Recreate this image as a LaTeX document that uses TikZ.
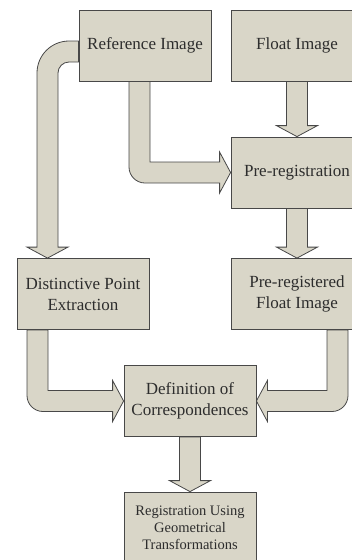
\documentclass[tikz,border=0pt]{standalone}
\usepackage{fontspec}
\setmainfont{Liberation Serif}
\usetikzlibrary{calc}
\definecolor{boxfill}{RGB}{217,214,200}
\definecolor{edgecol}{RGB}{72,72,72}
\definecolor{txtcol}{RGB}{45,45,45}
\pgfdeclarelayer{background}
\pgfsetlayers{background,main}
\newcommand{\vblockarrow}[2]{%
  \draw[blockarrow] let \p1=(#1.south), \p2=(#2.north),
    \n2={\y1}, \n3={\x2}, \n4={\y2} in
    (\n3-10.5,\n2) -- (\n3-10.5,\n4+11) -- (\n3-20.5,\n4+11) -- (\n3,\n4)
    -- (\n3+20.5,\n4+11) -- (\n3+10.5,\n4+11) -- (\n3+10.5,\n2) -- cycle;}
\begin{document}
\begin{tikzpicture}[x=1pt,y=1pt,
  stepbox/.style={draw=edgecol,line width=0.8pt,fill=boxfill,
    minimum width=132pt,minimum height=71pt,inner sep=0pt,align=center,
    text=txtcol,font=\fontsize{17}{21}\selectfont},
  smallbox/.style={stepbox,font=\fontsize{14.5}{17}\selectfont},
  blockarrow/.style={draw=edgecol,line width=0.8pt,fill=boxfill,line join=miter}]
\useasboundingbox (0,0) rectangle (352,-560);
\clip (0,0) rectangle (352,-560);
\node[stepbox] (ref) at (145,-45.5) {Reference Image};
\node[stepbox] (flt) at (297,-45.5) {Float Image};
\node[stepbox] (pre) at (297,-172.5) {Pre-registration};
\node[stepbox] (dpe) at (83,-294) {Distinctive Point\\Extraction};
\node[stepbox] (prf) at (297,-294) {Pre-registered\\Float Image};
\node[stepbox] (def) at (190,-401) {Definition of\\Correspondences};
\node[smallbox] (reg) at (190,-527.5) {Registration Using\\Geometrical\\Transformations};
\begin{pgfonlayer}{background}
\vblockarrow{flt}{pre}
\vblockarrow{pre}{prf}
\vblockarrow{def}{reg}
% Reference -> Distinctive Point Extraction
\draw[blockarrow] let \p1=(ref.west), \p2=(dpe.north),
    \n1={\x2-35.5pt}, \n2={\y1-6pt}, \n3={\x1}, \n4={\y2} in
  (\n3,\n2+10.5) -- (\n1+21.5,\n2+10.5) arc[start angle=90,end angle=180,radius=32]
  -- (\n1-10.5,\n4+11) -- (\n1-20.5,\n4+11) -- (\n1,\n4) -- (\n1+20.5,\n4+11)
  -- (\n1+10.5,\n4+11) -- (\n1+10.5,\n2-21.5) arc[start angle=180,end angle=90,radius=11]
  -- (\n3,\n2-10.5) -- cycle;
% Reference -> Pre-registration
\draw[blockarrow] let \p1=(ref.south), \p2=(pre.west),
    \n1={\x1}, \n2={\y1}, \n3={\x2}, \n4={\y2} in
  (\n1-16,\n2) -- (\n1-16,\n4+5.5) arc[start angle=180,end angle=270,radius=16]
  -- (\n3-11,\n4-10.5) -- (\n3-11,\n4-20.5) -- (\n3,\n4) -- (\n3-11,\n4+20.5)
  -- (\n3-11,\n4+10.5) -- (\n1+5,\n4+10.5) -- (\n1+5,\n2) -- cycle;
% Distinctive -> Definition
\draw[blockarrow] let \p1=(dpe.south), \p2=(def.west),
    \n1={\x1}, \n2={\y1}, \n3={\x2}, \n4={\y2} in
  (\n1-56,\n2) -- (\n1-56,\n4+5.5) arc[start angle=180,end angle=270,radius=16]
  -- (\n3-11,\n4-10.5) -- (\n3-11,\n4-20.5) -- (\n3,\n4) -- (\n3-11,\n4+20.5)
  -- (\n3-11,\n4+10.5) -- (\n1-35,\n4+10.5) -- (\n1-35,\n2) -- cycle;
% Pre-registered -> Definition
\draw[blockarrow] let \p1=(prf.south), \p2=(def.east),
    \n1={\x1}, \n2={\y1}, \n3={\x2}, \n4={\y2} in
  (\n1+51,\n2) -- (\n1+51,\n4+5.5) arc[start angle=0,end angle=-90,radius=16]
  -- (\n3+11,\n4-10.5) -- (\n3+11,\n4-20.5) -- (\n3,\n4) -- (\n3+11,\n4+20.5)
  -- (\n3+11,\n4+10.5) -- (\n1+30,\n4+10.5) -- (\n1+30,\n2) -- cycle;
\end{pgfonlayer}
\end{tikzpicture}
\end{document}
